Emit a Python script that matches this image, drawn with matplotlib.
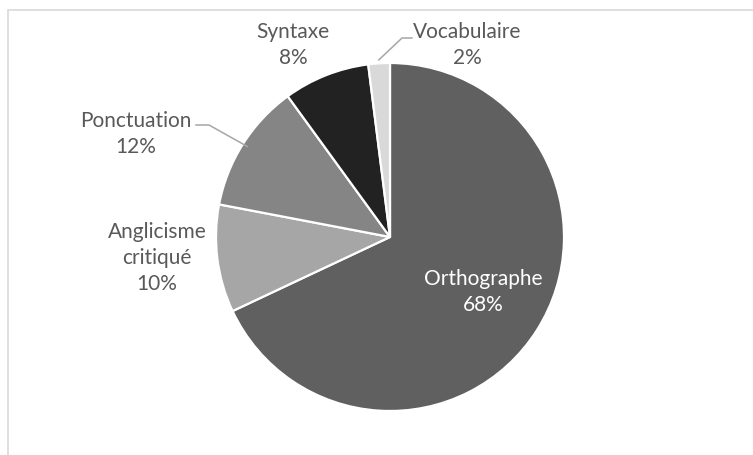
import numpy as np
import matplotlib.pyplot as plt
from matplotlib.patches import Rectangle

# data
categories = ["Orthographe", "Anglicisme\ncritiqué", "Ponctuation", "Syntaxe", "Vocabulaire"]
values = [68, 10, 12, 8, 2]
colors = ["#606060", "#a6a6a6", "#858585", "#222222", "#d9d9d9"]

W, H = 753, 455
cx, cy, r = 390, H - 237, 174

plt.rcParams['font.family'] = ['Lato', 'DejaVu Sans']

fig = plt.figure(figsize=(W / 100, H / 100), dpi=100)
ax = fig.add_axes([0, 0, 1, 1])

# chart frame
ax.add_patch(Rectangle((8, -10), W, H, fill=False,
                       edgecolor="#d9d9d9", linewidth=1.2))

wedges, _ = ax.pie(values, colors=colors, startangle=90, counterclock=False,
                   center=(cx, cy), radius=r, frame=True,
                   wedgeprops=dict(edgecolor="white", linewidth=1.6))
ax.set_xlim(0, W)
ax.set_ylim(0, H)
ax.set_aspect('equal')
ax.axis('off')

# label layout (pixel positions, top-down)
label_pos = [(483, 292), (157, 258), (136, 134), (293, 45), (467, 45)]
text_col = ["white", "#595959", "#595959", "#595959", "#595959"]

for name, v, (px, py), tc in zip(categories, values, label_pos, text_col):
    ax.text(px, H - py, f"{name}\n{v}%", ha="center", va="center",
            fontsize=15, color=tc, linespacing=1.4)

# leader lines
def edge_point(w, frac=1.0):
    ang = np.deg2rad((w.theta1 + w.theta2) / 2)
    return cx + r * frac * np.cos(ang), cy + r * frac * np.sin(ang)

# Ponctuation
ex, ey = edge_point(wedges[2], 0.97)
ax.plot([196, 209, ex], [H - 125, H - 125, ey], color="#a6a6a6", lw=1.1)
# Vocabulaire
ex, ey = edge_point(wedges[4], 1.02)
ax.plot([412, 402, ex], [H - 38, H - 38, ey], color="#a6a6a6", lw=1.1)

fig.savefig("out.png", dpi=100)
